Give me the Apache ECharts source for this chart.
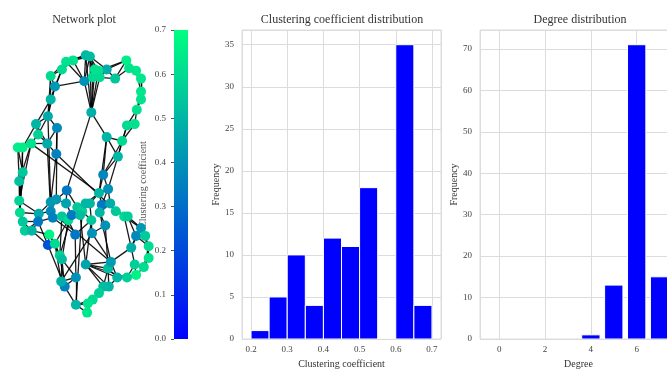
<!DOCTYPE html>
<html>
<head>
<meta charset="utf-8">
<script src="https://cdn.jsdelivr.net/npm/echarts@6/dist/echarts.min.js"></script>
<style>
  html, body { margin: 0; padding: 0; background: #fff; }
  #main { width: 667px; height: 369px; }
</style>
</head>
<body>
<div id="main"></div>
<script>
// network layout (node positions in layout units)
var nodeX = [0.01,0.07,-0.17,-0.27,-0.33,-0.49,-0.43,-0.49,-0.53,-0.70,
  -0.40,-0.67,-0.54,-0.41,-0.96,-0.89,-0.77,-0.89,-0.94,-0.94,
  -0.93,-0.89,-0.86,-0.76,-0.66,-0.67,-0.51,-0.53,-0.43,-0.49,
  -0.41,-0.49,-0.46,-0.33,-0.27,-0.26,-0.24,-0.19,-0.14,-0.11,
  -0.04,-0.07,0.01,0.07,0.09,0.10,0.20,0.26,0.33,0.24,
  0.21,0.36,0.29,0.44,0.56,0.61,0.47,0.53,0.31,0.60,
  0.71,0.74,0.80,0.80,0.80,0.73,0.63,0.59,0.43,0.31,
  0.19,0.21,0.11,-0.01,0.09,0.14,0.80,0.73,0.86,0.91,
  0.91,0.84,0.73,0.71,0.66,0.60,0.46,0.33,0.37,0.34,
  0.26,0.20,0.11,0.04,0.03,-0.13,0.01,-0.13,-0.29,-0.34,
  -0.36,-0.33];
var nodeY = [0.96,0.95,0.92,0.91,0.85,0.80,0.72,0.62,0.49,0.43,
  0.40,0.35,0.28,0.20,0.25,0.25,0.28,0.06,-0.01,-0.16,
  -0.25,-0.32,-0.39,-0.39,-0.26,-0.32,-0.42,-0.50,-0.49,-0.17,
  -0.15,-0.24,-0.29,-0.28,-0.18,-0.08,-0.31,-0.27,-0.42,-0.21,
  -0.24,-0.27,-0.18,-0.18,-0.31,-0.41,-0.10,0.04,-0.07,-0.19,
  -0.25,-0.18,-0.35,-0.24,-0.28,-0.28,0.18,0.30,0.33,0.42,
  0.43,0.54,0.62,0.68,0.78,0.84,0.86,0.92,0.78,0.85,
  0.84,0.79,0.79,0.76,0.52,0.85,-0.37,-0.43,-0.43,-0.51,
  -0.60,-0.67,-0.73,-0.65,-0.52,-0.75,-0.75,-0.68,-0.63,-0.82,
  -0.82,-0.87,-0.92,-0.95,-1.02,-0.96,-0.65,-0.75,-0.82,-0.78,
  -0.58,-0.61];
var nodeClustering = [0.50,0.52,0.62,0.62,0.60,0.60,0.42,0.50,0.47,0.50,
  0.38,0.58,0.47,0.36,0.65,0.65,0.62,0.55,0.53,0.58,
  0.60,0.55,0.57,0.50,0.47,0.33,0.67,0.22,0.60,0.42,
  0.42,0.38,0.35,0.55,0.45,0.33,0.60,0.33,0.33,0.55,
  0.58,0.52,0.50,0.50,0.55,0.40,0.50,0.37,0.40,0.33,
  0.50,0.47,0.40,0.55,0.60,0.57,0.50,0.60,0.50,0.60,
  0.62,0.62,0.62,0.63,0.63,0.63,0.62,0.65,0.55,0.47,
  0.62,0.60,0.60,0.40,0.48,0.62,0.42,0.38,0.56,0.60,
  0.62,0.60,0.67,0.57,0.48,0.57,0.50,0.52,0.43,0.50,
  0.52,0.57,0.60,0.62,0.63,0.50,0.45,0.40,0.36,0.48,
  0.58,0.52];
// edges, 1-based node numbers
var edges = [
  [1,2],[1,3],[1,4],[2,3],[2,76],[2,71],[2,73],[1,74],[2,74],[1,75],[2,75],[3,4],[3,5],[4,5],[4,6],[5,6],
  [5,7],[6,7],[6,8],[3,74],[4,74],[75,71],[75,72],[75,73],[75,74],[75,76],[76,70],[71,70],[70,69],[70,68],
  [69,68],[69,67],[68,67],[67,66],[66,65],[68,66],[65,64],[64,63],[63,62],[65,63],[62,61],[61,60],[62,60],
  [60,58],[61,58],[58,59],[59,57],[58,57],[60,57],[57,48],[57,49],[59,75],[70,72],[73,71],[72,71],[76,71],
  [70,2],[1,76],[64,66],[62,64],[68,71],[69,72],[7,74],[73,76],
  [7,8],[8,9],[8,5],[9,10],[9,11],[8,10],[9,12],[10,12],[10,13],[11,13],[12,13],[13,14],[11,14],[12,17],
  [10,16],[15,16],[16,17],[15,17],[15,18],[16,18],[15,19],[17,19],[13,17],[7,9],[6,9],
  [14,54],[9,30],[11,31],[13,32],[14,30],[75,36],[48,58],[59,48],[59,47],[17,47],
  [18,19],[18,20],[19,20],[19,21],[20,21],[20,22],[21,22],[21,23],[22,23],[22,24],[23,24],[20,25],[21,25],
  [22,26],[24,26],[25,26],[24,27],[26,28],[27,28],[27,29],[28,29],[24,28],[25,30],[23,26],[17,20],[16,21],[18,21],
  [30,31],[30,32],[31,32],[32,33],[31,35],[33,34],[34,37],[35,36],[35,38],[36,40],[34,38],[37,38],[38,40],
  [40,41],[41,42],[40,43],[42,43],[43,44],[44,45],[43,47],[44,47],[45,46],[46,53],[47,50],[47,49],[49,50],
  [50,51],[50,52],[51,52],[51,53],[52,54],[49,52],[54,55],[55,56],[54,56],[33,39],[37,39],[39,45],[26,33],
  [25,32],[29,37],[36,31],[48,47],[48,49],[41,45],[42,37],
  [38,101],[34,101],[37,102],[39,98],[42,97],[45,97],[46,89],[51,89],[32,89],[46,100],[41,96],[53,88],
  [101,102],[101,29],[102,100],[102,99],[100,99],[100,98],[99,98],[99,96],[98,96],[96,95],[96,94],[95,94],
  [94,93],[95,93],[93,92],[94,92],[92,91],[92,90],[91,90],[91,88],[90,87],[90,88],[87,86],[87,88],[86,83],
  [86,84],[88,89],[89,97],[97,91],[97,90],[97,88],[97,87],[97,86],[89,87],[89,85],[85,84],[85,77],[85,78],
  [84,83],[83,82],[84,82],[82,81],[81,80],[80,79],[79,78],[78,77],[80,78],[79,77],[81,79],[77,56],[78,56],
  [77,55],[85,55],[80,82],[101,99],[102,98],[28,99],[29,100],[27,101],[96,93]
];

// colorbar range
var colorRange = [0, 0.7];

// clustering coefficient histogram
var clusterBinStart = [0.20,0.25,0.30,0.35,0.40,0.45,0.50,0.55,0.60,0.65];
var clusterBinEnd   = [0.25,0.30,0.35,0.40,0.45,0.50,0.55,0.60,0.65,0.70];
var clusterCounts   = [1,5,10,4,12,11,18,0,35,4];

// degree histogram
var degreeValues = [4,5,6,7];
var degreeCounts = [1,13,71,15];

var FONT = 'Liberation Serif';
var LABEL = '#444';
var GRIDLINE = '#dcdcdc';

function winter(v) {
  var t = (v - colorRange[0]) / (colorRange[1] - colorRange[0]);
  t = Math.max(0, Math.min(1, t));
  return 'rgb(0,' + Math.round(255 * t) + ',' + Math.round(255 * (1 - t / 2)) + ')';
}

var chart = echarts.init(document.getElementById('main'), null, {renderer: 'canvas'});

function histItem(params, api) {
  var p0 = api.coord([api.value(0), api.value(2)]);
  var p1 = api.coord([api.value(1), 0]);
  return {
    type: 'rect',
    shape: {x: p0[0], y: p0[1], width: p1[0] - p0[0], height: p1[1] - p0[1]},
    style: {fill: '#0000ff', stroke: '#ffffff', lineWidth: 1}
  };
}

function valueAxisLabel() {
  return {fontFamily: FONT, fontSize: 9, color: LABEL};
}

var titleStyle = {fontFamily: FONT, fontSize: 12, fontWeight: 'normal', color: '#333'};

var option = {
  animation: false,
  backgroundColor: '#fff',
  title: [
    {text: 'Network plot', left: 84, top: 14, textAlign: 'center', padding: 0, textStyle: titleStyle},
    {text: 'Clustering coefficient distribution', left: 342, top: 14, textAlign: 'center', padding: 0, textStyle: titleStyle},
    {text: 'Degree distribution', left: 580, top: 14, textAlign: 'center', padding: 0, textStyle: titleStyle}
  ],
  grid: [
    {left: 8, top: 37, width: 154, height: 286, show: false, outerBoundsMode: 'none'},
    {left: 174, top: 30, width: 14, height: 309, show: false, outerBoundsMode: 'none'},
    {left: 242, top: 30, width: 199, height: 309, show: true, borderColor: GRIDLINE, borderWidth: 1,
      outerBoundsMode: 'none'},
    {left: 480, top: 30, width: 197, height: 309, show: true, borderColor: GRIDLINE, borderWidth: 1,
      outerBoundsMode: 'none'}
  ],
  xAxis: [
    {gridIndex: 0, type: 'value', min: -1.1, max: 1.1, show: false},
    {gridIndex: 1, type: 'category', data: [''], show: false},
    {gridIndex: 2, type: 'value', min: 0.175, max: 0.725,
      name: 'Clustering coefficient', nameLocation: 'middle', nameGap: 17,
      nameTextStyle: {fontFamily: FONT, fontSize: 10, color: '#333'},
      axisLine: {show: false}, axisTick: {show: false},
      axisLabel: Object.assign(valueAxisLabel(), {margin: 6, showMinLabel: false, showMaxLabel: false,
        formatter: function (v) { return v.toFixed(1); }}),
      splitLine: {show: true, lineStyle: {color: GRIDLINE, width: 1}}},
    {gridIndex: 3, type: 'value', min: -0.84, max: 7.76,
      name: 'Degree', nameLocation: 'middle', nameGap: 17,
      nameTextStyle: {fontFamily: FONT, fontSize: 10, color: '#333'},
      axisLine: {show: false}, axisTick: {show: false},
      axisLabel: Object.assign(valueAxisLabel(), {margin: 6, showMinLabel: false, showMaxLabel: false}),
      splitLine: {show: true, lineStyle: {color: GRIDLINE, width: 1}}}
  ],
  yAxis: [
    {gridIndex: 0, type: 'value', min: -1.1, max: 1.1, show: false},
    {gridIndex: 1, type: 'value', min: colorRange[0], max: colorRange[1], interval: 0.1,
      name: 'Clustering coefficient', nameLocation: 'middle', nameGap: 26,
      nameTextStyle: {fontFamily: FONT, fontSize: 10, color: '#555'},
      axisLine: {show: false},
      axisTick: {show: true, length: 3, lineStyle: {color: '#555'}},
      axisLabel: Object.assign(valueAxisLabel(), {margin: 8, formatter: function (v) { return v.toFixed(1); }}),
      splitLine: {show: false}},
    {gridIndex: 2, type: 'value', min: 0, max: 36.75, interval: 5,
      name: 'Frequency', nameLocation: 'middle', nameGap: 20,
      nameTextStyle: {fontFamily: FONT, fontSize: 10, color: '#333'},
      axisLine: {show: false}, axisTick: {show: false},
      axisLabel: Object.assign(valueAxisLabel(), {margin: 8, showMaxLabel: false}),
      splitLine: {show: true, lineStyle: {color: GRIDLINE, width: 1}}},
    {gridIndex: 3, type: 'value', min: 0, max: 74.55, interval: 10,
      name: 'Frequency', nameLocation: 'middle', nameGap: 20,
      nameTextStyle: {fontFamily: FONT, fontSize: 10, color: '#333'},
      axisLine: {show: false}, axisTick: {show: false},
      axisLabel: Object.assign(valueAxisLabel(), {margin: 8, showMaxLabel: false}),
      splitLine: {show: true, lineStyle: {color: GRIDLINE, width: 1}}}
  ],
  series: [
    {
      type: 'graph',
      coordinateSystem: 'cartesian2d',
      xAxisIndex: 0,
      yAxisIndex: 0,
      layout: 'none',
      symbolSize: 10,
      silent: true,
      label: {show: false},
      data: nodeX.map(function (x, i) {
        return {value: [x, nodeY[i]], itemStyle: {color: winter(nodeClustering[i])}};
      }),
      links: edges.map(function (e) {
        return {source: e[0] - 1, target: e[1] - 1};
      }),
      lineStyle: {color: '#000', width: 1.3, opacity: 0.9, curveness: 0}
    },
    {
      type: 'bar',
      xAxisIndex: 1,
      yAxisIndex: 1,
      barWidth: '100%',
      silent: true,
      data: [colorRange[1]],
      itemStyle: {
        color: new echarts.graphic.LinearGradient(0, 0, 0, 1, [
          {offset: 0, color: winter(colorRange[1])},
          {offset: 1, color: winter(colorRange[0])}
        ])
      }
    },
    {
      type: 'custom',
      xAxisIndex: 2,
      yAxisIndex: 2,
      silent: true,
      clip: true,
      renderItem: histItem,
      encode: {x: [0, 1], y: 2},
      data: clusterBinStart.map(function (s, i) {
        return [s, clusterBinEnd[i], clusterCounts[i]];
      })
    },
    {
      type: 'custom',
      xAxisIndex: 3,
      yAxisIndex: 3,
      silent: true,
      clip: true,
      renderItem: histItem,
      encode: {x: [0, 1], y: 2},
      data: degreeValues.map(function (d, i) {
        return [d - 0.4, d + 0.4, degreeCounts[i]];
      })
    }
  ]
};

chart.setOption(option);
</script>
</body>
</html>
